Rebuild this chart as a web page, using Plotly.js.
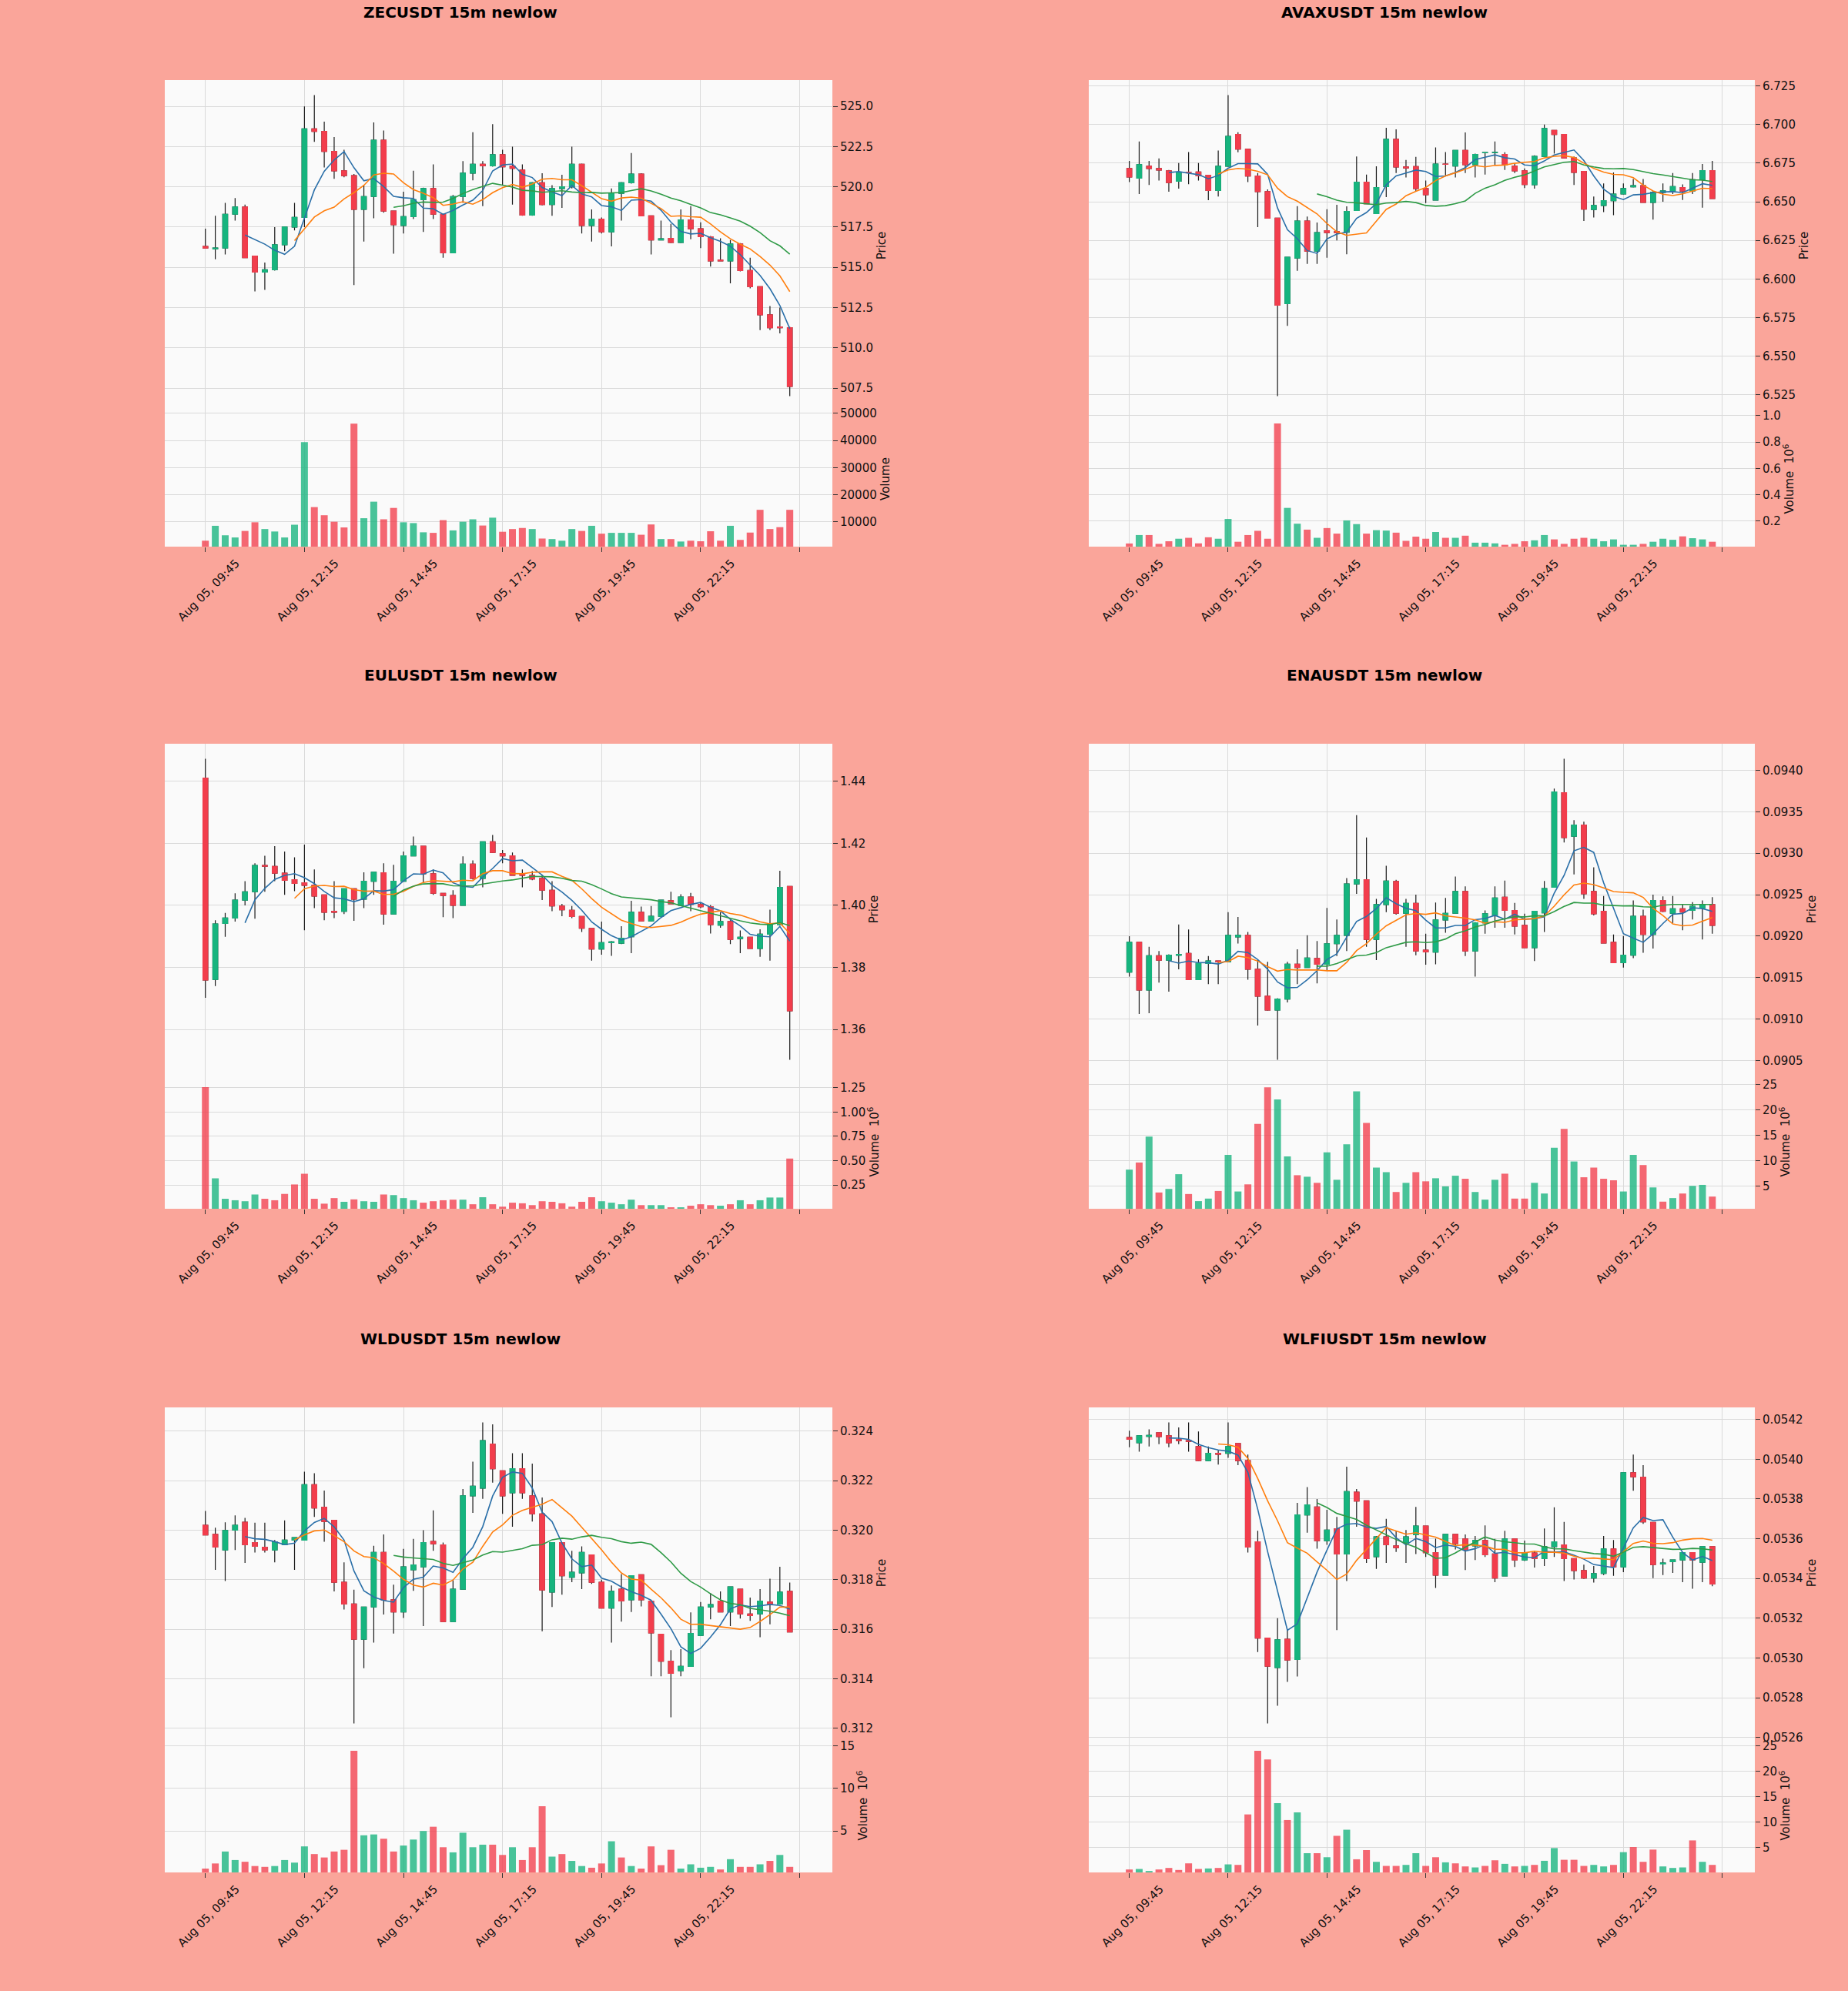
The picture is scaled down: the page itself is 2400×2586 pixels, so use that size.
<!DOCTYPE html>
<html>
<head>
<meta charset="utf-8">
<script src="https://cdn.plot.ly/plotly-3.0.1.min.js"></script>
<style>
  html, body { margin: 0; padding: 0; background: #FAA59A; }
  #chart { width: 2400px; height: 2586px; }
</style>
</head>
<body>
<div id="chart"></div>
<script>
// tick labels, one every 10 bars (15m candles from Aug 05 09:45); last tick is past the data
var tickLabels = ['Aug 05, 09:45', 'Aug 05, 12:15', 'Aug 05, 14:45', 'Aug 05, 17:15', 'Aug 05, 19:45', 'Aug 05, 22:15', ''];

// [open, high, low, close] per candle
var zecOHLC = [
  [516.3,517.4,516.2,516.2],[516.15,518.2,515.5,516.2],[516.2,519.0,515.8,518.3],[518.3,519.3,517.9,518.75],
  [518.75,518.9,515.6,515.6],[515.7,515.7,513.5,514.7],[514.7,515.3,513.6,514.85],[514.85,517.5,514.8,516.4],
  [516.4,517.5,516.0,517.5],[517.5,519.0,517.3,518.1],[518.1,525.0,517.5,523.6],[523.6,525.7,522.8,523.45],
  [523.45,524.05,521.2,522.2],[522.2,523.1,520.5,521.0],[521.0,522.3,520.6,520.7],[520.7,520.8,513.9,518.6],
  [518.6,520.1,516.6,519.4],[519.4,524.0,518.05,522.9],[522.9,523.5,518.4,518.5],[518.5,518.5,515.85,517.65],
  [517.6,519.7,517.1,518.15],[518.15,521.0,518.0,519.2],[519.2,519.95,517.2,519.9],[519.9,521.4,518.0,518.3],
  [518.3,518.3,515.6,515.9],[515.9,519.5,515.9,519.4],[519.4,521.6,519.0,520.85],[520.85,523.4,520.4,521.4],
  [521.4,521.6,518.8,521.3],[521.3,523.9,521.25,522.0],[522.0,522.3,520.1,521.25],[521.3,522.5,518.9,521.15],
  [521.05,521.4,518.2,518.25],[518.25,520.3,518.2,520.25],[520.25,520.85,518.85,518.9],[518.9,520.1,518.2,519.9],
  [519.9,520.75,518.7,520.0],[520.0,522.5,519.9,521.4],[521.4,521.45,517.1,517.6],[517.6,518.6,516.6,518.0],
  [518.0,518.1,517.1,517.2],[517.2,519.9,516.3,519.6],[519.6,520.3,517.9,520.25],[520.25,522.1,520.2,520.8],
  [520.8,520.85,518.2,518.2],[518.2,518.2,515.8,516.7],[516.7,517.9,516.7,516.78],[516.8,517.7,516.5,516.55],
  [516.55,518.6,516.5,517.95],[517.95,518.8,516.75,517.4],[517.4,517.8,516.2,516.9],[516.9,516.95,515.05,515.4],
  [515.45,516.8,515.4,515.4],[515.4,516.7,514.0,516.45],[516.45,516.5,514.75,514.8],[514.8,515.6,513.7,513.8],
  [513.8,513.8,511.1,512.05],[512.05,512.6,511.1,511.25],[511.3,512.5,510.9,511.25],[511.25,511.3,507.0,507.6]
];
var zecVol = [3000,8500,5000,4200,6600,9800,7300,6400,4200,8900,39400,15400,12400,10000,7900,46200,11300,17400,10900,15100,
  9800,9500,6100,5900,10600,6800,10000,10900,8600,11500,6300,7300,7700,7300,3800,3600,3000,7300,6600,8500,
  5600,5900,5900,5900,5200,9000,3600,3600,2700,3000,2800,6500,3000,8500,3300,6000,14400,7300,8000,14400];

var avaxOHLC = [
  [6.6715,6.6764,6.6627,6.666],[6.6653,6.689,6.655,6.674],[6.673,6.6764,6.6608,6.6715],[6.6715,6.678,6.6637,6.6705],
  [6.670,6.6705,6.6565,6.6624],[6.6633,6.675,6.6585,6.669],[6.6692,6.6822,6.6614,6.669],[6.6693,6.675,6.6637,6.6667],
  [6.6672,6.6672,6.651,6.6573],[6.6573,6.6832,6.6534,6.673],[6.673,6.719,6.6725,6.6923],[6.6935,6.695,6.682,6.6841],
  [6.684,6.6841,6.6627,6.6666],[6.6666,6.6686,6.6336,6.6565],[6.6565,6.658,6.639,6.6394],[6.6394,6.6394,6.5242,6.583],
  [6.584,6.6141,6.5697,6.6141],[6.6136,6.6472,6.6053,6.6375],[6.6375,6.6404,6.6098,6.618],[6.618,6.6365,6.6098,6.630],
  [6.6313,6.6452,6.6137,6.630],[6.6307,6.648,6.625,6.630],[6.6303,6.647,6.616,6.6437],[6.6443,6.6793,6.644,6.6627],
  [6.6627,6.6676,6.6487,6.6487],[6.6423,6.6729,6.642,6.6592],[6.6598,6.6978,6.653,6.6904],[6.6904,6.6968,6.6686,6.6725],
  [6.6725,6.677,6.6657,6.6718],[6.6728,6.679,6.657,6.6585],[6.6585,6.6637,6.6491,6.6546],[6.651,6.6851,6.651,6.6744],
  [6.6744,6.6822,6.6666,6.6742],[6.6731,6.6832,6.6657,6.6832],[6.6832,6.6948,6.6686,6.674],[6.674,6.6812,6.6657,6.6806],
  [6.6817,6.6822,6.6676,6.6818],[6.6818,6.689,6.6735,6.682],[6.6806,6.682,6.6705,6.674],[6.673,6.6744,6.6686,6.670],
  [6.670,6.6715,6.6588,6.6612],[6.661,6.680,6.6585,6.6793],[6.6793,6.700,6.679,6.6974],[6.6962,6.6965,6.6812,6.6935],
  [6.6935,6.6939,6.678,6.6783],[6.6783,6.6793,6.6608,6.669],[6.6696,6.6698,6.6375,6.6452],[6.645,6.6534,6.6398,6.6476],
  [6.6476,6.6618,6.6433,6.6507],[6.6507,6.669,6.6413,6.655],[6.655,6.6618,6.6546,6.6585],[6.6596,6.6647,6.6592,6.6604],
  [6.6604,6.6647,6.6495,6.6495],[6.6495,6.657,6.6384,6.656],[6.656,6.6618,6.650,6.657],[6.657,6.6686,6.655,6.6598],
  [6.6592,6.6612,6.6511,6.6569],[6.657,6.6686,6.655,6.6643],[6.6643,6.6744,6.6462,6.6701],[6.6701,6.6764,6.652,6.652]
];
var avaxVol = [0.03,0.094,0.094,0.027,0.047,0.066,0.073,0.031,0.077,0.066,0.216,0.043,0.094,0.126,0.066,0.94,0.30,0.18,0.135,0.073,
  0.147,0.105,0.205,0.177,0.105,0.131,0.128,0.112,0.05,0.082,0.066,0.117,0.073,0.073,0.089,0.036,0.036,0.031,0.02,0.027,
  0.047,0.054,0.094,0.061,0.027,0.066,0.073,0.066,0.047,0.061,0.02,0.02,0.027,0.043,0.066,0.058,0.084,0.07,0.061,0.043];

var eulOHLC = [
  [1.4411,1.4473,1.3702,1.3759],[1.3761,1.3952,1.374,1.394],[1.3942,1.3976,1.3899,1.3959],[1.3959,1.4039,1.3948,1.4017],
  [1.4017,1.4078,1.400,1.4044],[1.4044,1.4136,1.3957,1.4129],[1.4129,1.416,1.4044,1.4126],[1.4126,1.4191,1.4078,1.4104],
  [1.4104,1.4174,1.4034,1.4081],[1.4083,1.4155,1.4046,1.4071],[1.4073,1.4196,1.392,1.4065],[1.4065,1.4116,1.3991,1.403],
  [1.4034,1.4034,1.3952,1.3978],[1.3981,1.4078,1.3959,1.3978],[1.3981,1.4054,1.3972,1.4054],[1.4054,1.4054,1.395,1.402],
  [1.402,1.4107,1.3991,1.4078],[1.4078,1.4107,1.4034,1.4107],[1.4105,1.4136,1.3938,1.3972],[1.3972,1.4131,1.3972,1.4078],
  [1.4078,1.4174,1.4078,1.416],[1.416,1.4222,1.4158,1.4191],[1.4191,1.4191,1.4073,1.4102],[1.4102,1.4116,1.4034,1.4039],
  [1.4039,1.404,1.3962,1.4032],[1.4032,1.4049,1.3959,1.400],[1.400,1.4158,1.3999,1.4133],[1.4133,1.4145,1.4083,1.4087],
  [1.4087,1.4205,1.4058,1.4205],[1.4205,1.4227,1.4169,1.4171],[1.4167,1.4179,1.4136,1.416],[1.416,1.4171,1.4097,1.4097],
  [1.410,1.4116,1.4058,1.4097],[1.4097,1.4111,1.4081,1.4085],[1.4087,1.4097,1.4017,1.4049],[1.4049,1.4078,1.3981,1.3998],
  [1.3998,1.4005,1.3965,1.3986],[1.3984,1.3998,1.3959,1.3964],[1.3964,1.3964,1.3914,1.3926],[1.3926,1.3926,1.3822,1.3859],
  [1.3859,1.3948,1.3841,1.388],[1.388,1.3885,1.3837,1.3882],[1.3878,1.3933,1.3875,1.3894],[1.3899,1.4015,1.3846,1.3978],
  [1.3978,1.3996,1.395,1.395],[1.395,1.3998,1.3948,1.3965],[1.3965,1.4017,1.3963,1.4017],[1.4015,1.4044,1.4005,1.4005],
  [1.400,1.4036,1.3999,1.4027],[1.4027,1.404,1.3981,1.4003],[1.4003,1.401,1.3991,1.3996],[1.3996,1.4001,1.3909,1.3938],
  [1.3936,1.3978,1.3928,1.3948],[1.3948,1.3952,1.3875,1.389],[1.3893,1.3919,1.3846,1.3897],[1.3897,1.3897,1.3861,1.3861],
  [1.3861,1.3923,1.3834,1.3907],[1.3907,1.3986,1.3822,1.3938],[1.3938,1.4112,1.3936,1.4058],[1.4061,1.4061,1.3502,1.366]
];
var eulVol = [1.256,0.319,0.109,0.094,0.084,0.153,0.109,0.094,0.159,0.256,0.366,0.109,0.059,0.116,0.078,0.103,0.084,0.078,0.153,0.147,
  0.116,0.094,0.069,0.084,0.094,0.1,0.1,0.053,0.125,0.053,0.028,0.069,0.063,0.044,0.084,0.078,0.063,0.028,0.078,0.125,
  0.084,0.069,0.053,0.1,0.044,0.044,0.044,0.022,0.022,0.038,0.053,0.044,0.038,0.053,0.094,0.053,0.094,0.122,0.122,0.522];

var enaOHLC = [
  [0.091565,0.091998,0.09151,0.091926],[0.091926,0.09193,0.09106,0.091349],[0.09135,0.09187,0.09107,0.091763],[0.091763,0.09182,0.09144,0.09171],
  [0.09171,0.09178,0.09133,0.09177],[0.09177,0.09214,0.0916,0.09178],[0.09179,0.09208,0.091475,0.091475],[0.091475,0.09172,0.09147,0.09167],
  [0.09167,0.09176,0.09142,0.0917],[0.0917,0.0917,0.09142,0.09169],[0.09169,0.09229,0.09169,0.09201],[0.09199,0.09223,0.09191,0.09201],
  [0.09201,0.09205,0.091475,0.0916],[0.0916,0.09171,0.09092,0.091276],[0.091276,0.09169,0.0911,0.091107],[0.091107,0.09125,0.090508,0.09124],
  [0.09124,0.09169,0.0912,0.09166],[0.09166,0.09184,0.09142,0.09162],[0.09162,0.09201,0.09162,0.091735],[0.09173,0.09194,0.09143,0.09166],
  [0.09166,0.09234,0.09158,0.091908],[0.09191,0.0922,0.09176,0.09201],[0.09201,0.0927,0.09182,0.09263],[0.09263,0.09346,0.09251,0.09268],
  [0.09268,0.09319,0.09187,0.09196],[0.09196,0.09245,0.09171,0.09238],[0.09238,0.09285,0.09229,0.092665],[0.09266,0.09268,0.09226,0.092275],
  [0.092275,0.09245,0.09187,0.092395],[0.092395,0.0925,0.09177,0.09182],[0.09183,0.09203,0.091655,0.09181],[0.091807,0.092405,0.09166,0.092196],
  [0.092196,0.09246,0.09204,0.092275],[0.092275,0.09272,0.09227,0.09254],[0.09254,0.0926,0.09176,0.09182],[0.09182,0.09217,0.09151,0.09216],
  [0.09216,0.09231,0.09203,0.09227],[0.09225,0.0926,0.0921,0.09246],[0.09247,0.09267,0.0921,0.09231],[0.09231,0.0924,0.09202,0.09212],
  [0.09213,0.09227,0.09186,0.09186],[0.09186,0.0923,0.0917,0.0923],[0.09228,0.092665,0.09205,0.092575],[0.09259,0.09378,0.09259,0.09374],
  [0.09373,0.09414,0.09313,0.09319],[0.093205,0.0934,0.092745,0.09334],[0.09334,0.09338,0.09245,0.09251],[0.09254,0.09283,0.09225,0.09227],
  [0.0923,0.092485,0.091915,0.091915],[0.091925,0.09202,0.09168,0.09168],[0.09168,0.092,0.09162,0.09177],[0.09177,0.09243,0.091735,0.09224],
  [0.09224,0.09232,0.0918,0.09202],[0.09202,0.0925,0.09185,0.09243],[0.09243,0.09248,0.09229,0.0923],[0.092275,0.092485,0.09216,0.09233],
  [0.09233,0.09239,0.09207,0.09229],[0.09231,0.09241,0.0922,0.09236],[0.09234,0.09243,0.09196,0.09238],[0.09238,0.09247,0.09203,0.09213]
];
var enaVol = [8.3,9.7,14.8,3.8,4.5,7.4,3.5,2.1,2.6,4.1,11.2,4.0,5.4,17.3,24.5,22.1,10.9,7.2,6.9,5.7,
  11.7,6.3,13.3,23.7,17.5,8.7,7.8,3.9,5.7,7.8,6.0,6.6,5.0,7.1,6.5,3.9,2.4,6.3,7.5,2.6,
  2.6,5.7,3.6,12.6,16.3,9.9,6.8,8.7,6.5,6.2,4.0,11.2,9.2,4.8,2.0,2.7,3.6,5.1,5.3,3.0];

var wldOHLC = [
  [0.32020,0.32078,0.31981,0.31981],[0.31983,0.32010,0.31840,0.31932],[0.31920,0.32032,0.31795,0.31999],[0.32000,0.32060,0.31920,0.32020],
  [0.32032,0.32050,0.31868,0.31941],[0.31950,0.32030,0.31910,0.31935],[0.31931,0.32030,0.31910,0.31920],[0.31920,0.31960,0.31870,0.31953],
  [0.31941,0.32040,0.31940,0.31960],[0.31960,0.31970,0.31840,0.31970],[0.31960,0.32236,0.31960,0.32184],[0.32184,0.32230,0.32054,0.32090],
  [0.32093,0.32160,0.31953,0.32035],[0.32040,0.32042,0.31753,0.31790],[0.31790,0.31870,0.31680,0.31702],[0.31702,0.31760,0.31220,0.31560],
  [0.31560,0.31690,0.31443,0.31690],[0.31690,0.31937,0.31546,0.31910],[0.31910,0.31983,0.31660,0.31719],[0.31719,0.31780,0.31583,0.31670],
  [0.31670,0.31925,0.31646,0.31852],[0.31840,0.31965,0.31755,0.31860],[0.31852,0.32000,0.31613,0.31950],[0.31955,0.32080,0.31917,0.31945],
  [0.31941,0.31950,0.31631,0.31631],[0.31631,0.31800,0.31630,0.31762],[0.31762,0.32166,0.31760,0.32139],[0.32139,0.32277,0.32070,0.32178],
  [0.32170,0.32435,0.32127,0.32362],[0.32348,0.32427,0.32192,0.32248],[0.32240,0.32240,0.32066,0.32139],[0.32151,0.32311,0.32014,0.32248],
  [0.32248,0.32311,0.32127,0.32151],[0.32139,0.32269,0.32035,0.32066],[0.32066,0.32132,0.31592,0.31759],[0.31750,0.31950,0.31690,0.31950],
  [0.31950,0.31950,0.31740,0.31816],[0.31810,0.31917,0.31790,0.31830],[0.31828,0.31935,0.31762,0.31910],[0.31900,0.31900,0.31783,0.31790],
  [0.31790,0.31800,0.31686,0.31686],[0.31686,0.31777,0.31546,0.31753],[0.31762,0.31823,0.31631,0.31714],[0.31719,0.31816,0.31670,0.31816],
  [0.31820,0.31820,0.31692,0.31719],[0.31714,0.31714,0.31410,0.31585],[0.31580,0.31580,0.31410,0.31471],[0.31471,0.31516,0.31245,0.31422],
  [0.31433,0.31520,0.31410,0.31450],[0.31450,0.31668,0.31450,0.31583],[0.31575,0.31710,0.31575,0.31690],[0.31690,0.31747,0.31640,0.31700],
  [0.31714,0.31753,0.31668,0.31670],[0.31670,0.31771,0.31613,0.31771],[0.31762,0.31762,0.31643,0.31662],[0.31662,0.31728,0.31634,0.31655],
  [0.31662,0.31762,0.31568,0.31714],[0.31710,0.31804,0.31620,0.31700],[0.31702,0.31852,0.31700,0.31750],[0.31753,0.31789,0.31589,0.31589]
];
var wldVol = [0.6,1.2,2.6,1.6,1.4,0.9,0.8,0.9,1.6,1.3,3.2,2.3,1.9,2.6,2.8,14.4,4.5,4.6,4.1,2.6,
  3.3,4.0,5.0,5.5,3.1,2.5,4.8,3.1,3.4,3.4,2.2,3.1,1.6,3.1,7.9,2.0,2.3,1.5,0.9,0.7,
  1.2,3.8,1.9,0.9,0.6,3.2,1.0,2.8,0.6,1.1,0.7,0.8,0.5,1.7,0.8,0.8,1.1,1.5,2.2,0.8];

var wlfiOHLC = [
  [0.054109,0.054144,0.05406,0.0541],[0.054083,0.054118,0.054038,0.054118],[0.054115,0.05415,0.054064,0.05412],[0.054133,0.054133,0.054076,0.054114],
  [0.054118,0.054185,0.05406,0.054083],[0.054099,0.05416,0.054076,0.054094],[0.054094,0.054185,0.054038,0.05409],[0.054064,0.05414,0.05399,0.053993],
  [0.053993,0.054064,0.05399,0.05403],[0.05403,0.054045,0.053973,0.054025],[0.05403,0.054185,0.054007,0.054064],[0.054079,0.054079,0.05397,0.053993],
  [0.053993,0.054023,0.053531,0.053558],[0.053584,0.05364,0.05303,0.0531],[0.0531,0.0531,0.052671,0.052959],[0.052952,0.0532,0.05276,0.053092],
  [0.053095,0.05314,0.05288,0.05299],[0.052993,0.05378,0.052907,0.05372],[0.05372,0.05386,0.05363,0.05377],[0.05376,0.0538,0.05355,0.05359],
  [0.05359,0.053746,0.053569,0.053644],[0.05365,0.05371,0.05314,0.053523],[0.053523,0.053962,0.053387,0.053837],[0.053834,0.05385,0.05366,0.05379],
  [0.053791,0.053791,0.053478,0.0535],[0.05351,0.053614,0.053448,0.05361],[0.05361,0.0537,0.053478,0.05357],[0.053564,0.05364,0.053534,0.053555],
  [0.05358,0.053644,0.053478,0.05361],[0.05362,0.05376,0.053523,0.053664],[0.053664,0.053664,0.053508,0.05353],[0.05353,0.0536,0.053352,0.053417],
  [0.053417,0.053625,0.053417,0.053622],[0.053622,0.053622,0.053546,0.053576],[0.053599,0.053622,0.053443,0.053546],[0.053564,0.053614,0.053493,0.053591],
  [0.053591,0.053667,0.053508,0.053519],[0.053523,0.053599,0.053382,0.053402],[0.053413,0.05364,0.053413,0.053599],[0.053599,0.053599,0.053458,0.053493],
  [0.053493,0.053591,0.053488,0.053528],[0.053528,0.053538,0.053455,0.0535],[0.0535,0.053652,0.053463,0.05356],[0.05356,0.053758,0.053508,0.053584],
  [0.053569,0.053685,0.053387,0.0535],[0.0535,0.0535,0.053395,0.05344],[0.05344,0.05347,0.053398,0.053402],[0.053402,0.053463,0.05338,0.053425],
  [0.053425,0.053614,0.053417,0.053549],[0.053549,0.053594,0.053413,0.053458],[0.053458,0.053932,0.053432,0.053932],[0.053932,0.054023,0.053841,0.053912],
  [0.05391,0.05397,0.053675,0.053685],[0.053682,0.053682,0.053402,0.05347],[0.053473,0.0535,0.053417,0.053478],[0.053485,0.053493,0.053428,0.053493],
  [0.053493,0.05353,0.053382,0.05353],[0.05353,0.05353,0.053349,0.053493],[0.053482,0.05356,0.053382,0.05356],[0.05356,0.05356,0.053361,0.053372]
];
var wlfiVol = [0.7,0.8,0.4,0.7,1.0,0.6,1.9,0.8,0.9,1.0,1.7,1.6,11.5,24.0,22.3,13.7,10.4,11.9,3.9,3.9,
  3.1,7.3,8.5,2.7,4.5,2.2,1.4,1.4,1.6,3.9,1.4,3.1,2.1,1.9,1.3,1.1,1.4,2.5,1.8,1.3,
  1.4,1.6,2.4,4.9,2.6,2.6,1.4,1.6,1.3,1.6,4.1,5.1,2.2,4.6,1.3,1.0,1.1,6.4,2.2,1.6];

var maPeriods = [5, 10, 20];
var maColors = ['#2a6fa8', '#ff7f0e', '#2e9a46'];
var UP = '#16B47E';
var DOWN = '#F23D4C';

var panels = [
  {title: 'ZECUSDT 15m newlow', ohlc: zecOHLC, vol: zecVol, pdt: 2.5, pfmt: '.1f', vdt: 10000, vfmt: 'd', vtitle: 'Volume'},
  {title: 'AVAXUSDT 15m newlow', ohlc: avaxOHLC, vol: avaxVol, pdt: 0.025, pfmt: '.3f', vdt: 0.2, vfmt: '.1f', vtitle: 'Volume  10<sup>6</sup>'},
  {title: 'EULUSDT 15m newlow', ohlc: eulOHLC, vol: eulVol, pdt: 0.02, pfmt: '.2f', vdt: 0.25, vfmt: '.2f', vtitle: 'Volume  10<sup>6</sup>'},
  {title: 'ENAUSDT 15m newlow', ohlc: enaOHLC, vol: enaVol, pdt: 0.0005, pfmt: '.4f', vdt: 5, vfmt: 'd', vtitle: 'Volume  10<sup>6</sup>'},
  {title: 'WLDUSDT 15m newlow', ohlc: wldOHLC, vol: wldVol, pdt: 0.002, pfmt: '.3f', vdt: 5, vfmt: 'd', vtitle: 'Volume  10<sup>6</sup>'},
  {title: 'WLFIUSDT 15m newlow', ohlc: wlfiOHLC, vol: wlfiVol, pdt: 0.0002, pfmt: '.4f', vdt: 5, vfmt: 'd', vtitle: 'Volume  10<sup>6</sup>'}
];

// page geometry in pixels
var W = 2400, H = 2586;
var cols = [[214, 1081], [1414, 2279]];
var rows = [[104, 534, 710], [966, 1396, 1570], [1828, 2258, 2432]];
var titleX = [598, 1798];
var titleY = [16, 877, 1739];

function sma(vals, n) {
  return vals.map(function (_, i) {
    if (i < n - 1) return null;
    var s = 0;
    for (var j = i - n + 1; j <= i; j++) s += vals[j];
    return s / n;
  });
}

var FONT = 'DejaVu Sans, Liberation Sans, sans-serif';
var GRID = '#dadada';
var tickVals = [0, 10, 20, 30, 40, 50, 60];
var xRange = [-4.1, 63.3];

var traces = [];
var layout = {
  width: W, height: H,
  margin: {l: 0, r: 0, t: 0, b: 0},
  paper_bgcolor: '#FAA59A',
  plot_bgcolor: '#FAFAFA',
  showlegend: false,
  font: {family: FONT, size: 15, color: '#111'},
  annotations: []
};

panels.forEach(function (p, k) {
  var col = k % 2, row = Math.floor(k / 2);
  var xDom = [cols[col][0] / W, cols[col][1] / W];
  var r = rows[row];
  var pDom = [1 - r[1] / H, 1 - r[0] / H];
  var vDom = [1 - r[2] / H, 1 - r[1] / H];
  var pn = 2 * k + 1, vn = 2 * k + 2;
  var px = pn === 1 ? 'x' : 'x' + pn, py = pn === 1 ? 'y' : 'y' + pn;
  var vx = 'x' + vn, vy = 'y' + vn;

  var x = p.ohlc.map(function (_, i) { return i; });
  var o = p.ohlc.map(function (d) { return d[0]; });
  var h = p.ohlc.map(function (d) { return d[1]; });
  var l = p.ohlc.map(function (d) { return d[2]; });
  var c = p.ohlc.map(function (d) { return d[3]; });

  // black wicks first, then coloured bodies on top
  traces.push({
    type: 'candlestick', x: x, open: o, high: h, low: l, close: c,
    xaxis: px, yaxis: py, hoverinfo: 'skip', whiskerwidth: 0,
    increasing: {line: {color: '#1a1a1a', width: 1.2}, fillcolor: '#1a1a1a'},
    decreasing: {line: {color: '#1a1a1a', width: 1.2}, fillcolor: '#1a1a1a'}
  });
  traces.push({
    type: 'candlestick', x: x, open: o, close: c,
    high: o.map(function (v, i) { return Math.max(v, c[i]); }),
    low: o.map(function (v, i) { return Math.min(v, c[i]); }),
    xaxis: px, yaxis: py, hoverinfo: 'skip', whiskerwidth: 0,
    increasing: {line: {color: UP, width: 1.2}, fillcolor: UP},
    decreasing: {line: {color: DOWN, width: 1.2}, fillcolor: DOWN}
  });

  maPeriods.forEach(function (n, m) {
    traces.push({
      type: 'scatter', mode: 'lines', x: x, y: sma(c, n),
      xaxis: px, yaxis: py, hoverinfo: 'skip',
      line: {color: maColors[m], width: 1.6}
    });
  });

  traces.push({
    type: 'bar', x: x, y: p.vol, xaxis: vx, yaxis: vy, width: 0.7,
    marker: {color: c.map(function (v, i) { return v >= o[i] ? UP : DOWN; }), opacity: 0.78, line: {width: 0}},
    hoverinfo: 'skip'
  });

  var lo = Math.min.apply(null, l), hi = Math.max.apply(null, h);
  var pad = (hi - lo) * 0.05;
  var vmin = Math.min.apply(null, p.vol), vmax = Math.max.apply(null, p.vol);

  var pxKey = pn === 1 ? 'xaxis' : 'xaxis' + pn;
  var pyKey = pn === 1 ? 'yaxis' : 'yaxis' + pn;
  layout[pxKey] = {
    domain: xDom, anchor: py, range: xRange, tickvals: tickVals,
    showticklabels: false, showgrid: true, gridcolor: GRID, zeroline: false,
    rangeslider: {visible: false}, fixedrange: true
  };
  layout[pyKey] = {
    domain: pDom, anchor: px, side: 'right', range: [lo - pad, hi + pad],
    tick0: 0, dtick: p.pdt, tickformat: p.pfmt,
    ticks: 'outside', ticklen: 6, tickcolor: '#333',
    showgrid: true, gridcolor: GRID, zeroline: false,
    title: {text: 'Price', font: {size: 15}, standoff: 6}
  };
  layout['xaxis' + vn] = {
    domain: xDom, anchor: vy, range: xRange, tickvals: tickVals, ticktext: tickLabels,
    tickangle: -45, ticklabelshift: 40, ticks: 'outside', ticklen: 6, tickcolor: '#333',
    showgrid: true, gridcolor: GRID, zeroline: false
  };
  layout['yaxis' + vn] = {
    domain: vDom, anchor: vx, side: 'right', range: [vmin * 0.3, vmax * 1.1],
    tick0: 0, dtick: p.vdt, tickformat: p.vfmt,
    ticks: 'outside', ticklen: 6, tickcolor: '#333',
    showgrid: true, gridcolor: GRID, zeroline: false,
    title: {text: p.vtitle, font: {size: 15}, standoff: 6}
  };

  layout.annotations.push({
    text: '<b>' + p.title + '</b>', xref: 'paper', yref: 'paper',
    x: titleX[col] / W, y: 1 - titleY[row] / H, xanchor: 'center', yanchor: 'middle',
    showarrow: false, font: {size: 20, color: '#000'}
  });
});

Plotly.newPlot('chart', traces, layout, {staticPlot: true});
</script>
</body>
</html>
